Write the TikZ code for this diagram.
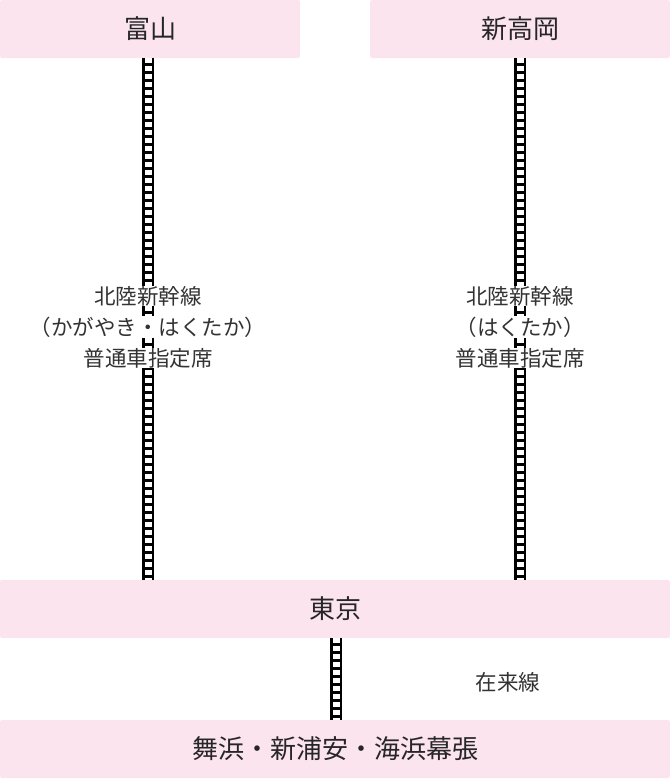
\documentclass[tikz,border=0pt]{standalone}
\usepackage{fontspec}
\setmainfont{Noto Sans CJK JP}
\definecolor{stationpink}{HTML}{FCE4EF}
\tikzset{
  station/.style={fill=stationpink, rounded corners=2pt, minimum height=58pt, font=\fontsize{26}{30}\selectfont, text=black!85},
  rail/.style={line width=12pt, draw=black},
  railgap/.style={line width=7pt, draw=white, dash pattern=on 5pt off 3pt},
  linelabel/.style={fill=white, inner sep=0.5pt, font=\fontsize{21.5}{24}\selectfont, text=black!80}
}
\begin{document}
\begin{tikzpicture}[x=1pt, y=-1pt]
  \useasboundingbox (0,0) rectangle (670,780);
  \node (toyama) at (150, 29) [station, minimum width=300pt] {富山};
  \node (takaoka) at (520, 29) [station, minimum width=300pt] {新高岡};
  \node (tokyo) at (335, 609) [station, minimum width=670pt] {東京};
  \node (maihama) at (335, 749) [station, minimum width=670pt] {舞浜・新浦安・海浜幕張};

  \coordinate (toyamaS) at (148, 58);
  \coordinate (toyamaT) at (148, 580);
  \coordinate (takaokaS) at (520, 58);
  \coordinate (takaokaT) at (520, 580);
  \coordinate (tokyoS) at (336, 638);
  \coordinate (maihamaT) at (336, 720);

  \draw[rail] (toyamaS) -- (toyamaT);
  \draw[railgap] (toyamaS) -- (toyamaT);
  \draw[rail] (takaokaS) -- (takaokaT);
  \draw[railgap] (takaokaS) -- (takaokaT);
  \draw[rail] (tokyoS) -- (maihamaT);
  \draw[railgap] (tokyoS) -- (maihamaT);

  \node (leftA) at (148, 296) [linelabel] {北陸新幹線};
  \node (leftB) at (148, 327) [linelabel] {（かがやき・はくたか）};
  \node (leftC) at (148, 358) [linelabel] {普通車指定席};
  \node (rightA) at (520, 296) [linelabel] {北陸新幹線};
  \node (rightB) at (520, 327) [linelabel] {（はくたか）};
  \node (rightC) at (520, 358) [linelabel] {普通車指定席};
  \node (zairai) at (508, 682) [linelabel] {在来線};
\end{tikzpicture}
\end{document}
